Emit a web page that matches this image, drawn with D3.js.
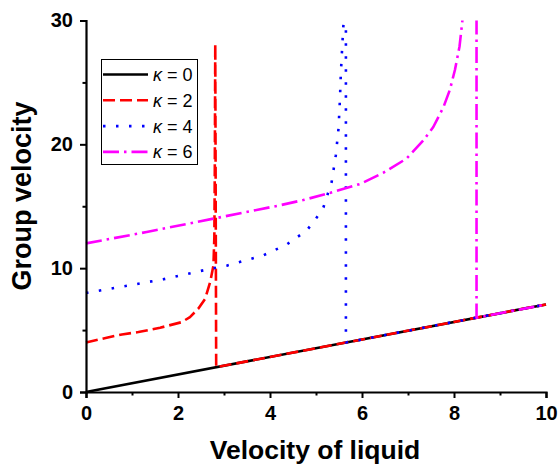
<!DOCTYPE html>
<html>
<head>
<meta charset="utf-8">
<script src="https://cdn.jsdelivr.net/npm/d3@7"></script>
<style>
  body { margin: 0; background: #fff; }
  svg { display: block; }
  text { font-family: "Liberation Sans", Arial, sans-serif; }
</style>
</head>
<body>
<svg id="chart" width="558" height="467"></svg>
<script>
// ---- data ----
const xTicks = [0, 2, 4, 6, 8, 10];
const xMinorTicks = [1, 3, 5, 7, 9];
const yTicks = [0, 10, 20, 30];
const yMinorTicks = [5, 15, 25];

const k0X = [0, 10];
const k0Y = [0, 7.07];

const k2X = [0, 0.45, 0.78, 1.14, 1.61, 2.08, 2.26, 2.44, 2.59, 2.70, 2.77, 2.79, 2.80, 2.81, 2.83, 4, 6, 8, 10];
const k2Y = [4.0, 4.38, 4.65, 4.84, 5.19, 5.64, 6.05, 6.72, 7.53, 8.88, 10.2, 12.5, 18.0, 28.1, 2.0, 2.83, 4.24, 5.66, 7.07];

const k4X = [0, 0.81, 1.68, 2.48, 3.06, 3.85, 4.36, 4.80, 5.00, 5.16, 5.34, 5.43, 5.49, 5.52, 5.54, 5.57, 5.60, 5.62, 5.65, 5.65, 6, 8, 10];
const k4Y = [8.0, 8.53, 9.1, 9.77, 10.2, 11.03, 11.9, 13.05, 14.0, 14.9, 16.96, 19.1, 21.3, 23.6, 25.7, 27.9, 29.9, 34, 34, 4.0, 4.24, 5.66, 7.07];

const k6X = [0, 1.32, 2.77, 4.22, 4.72, 5.23, 5.96, 6.46, 6.97, 7.33, 7.55, 7.77, 7.91, 8.02, 8.12, 8.18, 8.30, 8.49, 8.49, 9, 10];
const k6Y = [12.0, 12.92, 14.0, 15.08, 15.5, 16.0, 16.8, 17.7, 18.85, 20.3, 21.4, 23.0, 24.4, 26.0, 27.9, 29.9, 40, 40, 6.0, 6.36, 7.07];

const seriesNames = ["0", "2", "4", "6"];
const seriesColors = ["#000000", "#ff0000", "#0000ff", "#ff00ff"];
const seriesDash = [null, "12,5", "2.5,10.5", "16,5,2.5,5"];

// ---- layout ----
const svg = d3.select("#chart");
const pLeft = 86, pRight = 546, pTop = 20.5, pBottom = 392;

const x = d3.scaleLinear().domain([0, 10]).range([pLeft, pRight]);
const y = d3.scaleLinear().domain([0, 30]).range([pBottom, pTop]);

// clip
svg.append("defs").append("clipPath").attr("id", "clip")
  .append("rect").attr("x", pLeft - 5).attr("y", pTop).attr("width", pRight - pLeft + 10).attr("height", pBottom - pTop + 5);

const series = [
  { xs: k0X, ys: k0Y },
  { xs: k2X, ys: k2Y },
  { xs: k4X, ys: k4Y },
  { xs: k6X, ys: k6Y }
];

const line = d3.line().x(d => x(d[0])).y(d => y(d[1]));
const g = svg.append("g").attr("clip-path", "url(#clip)");
series.forEach((s, i) => {
  const pts = s.xs.map((v, j) => [v, s.ys[j]]);
  g.append("path")
    .attr("d", line(pts))
    .attr("fill", "none")
    .attr("stroke", seriesColors[i])
    .attr("stroke-width", 2.6)
    .attr("stroke-dasharray", seriesDash[i])
    .attr("stroke-linejoin", "round");
});

// axes
const xAxis = d3.axisBottom(x).tickValues(xTicks).tickSize(6).tickPadding(8).tickFormat(d3.format("d"));
const xMinor = d3.axisBottom(x).tickValues(xMinorTicks).tickSize(3.5).tickFormat("");
const yAxis = d3.axisLeft(y).tickValues(yTicks).tickSize(6).tickPadding(7).tickFormat(d3.format("d"));
const yMinor = d3.axisLeft(y).tickValues(yMinorTicks).tickSize(3.5).tickFormat("");

function styleAxis(sel) {
  sel.select(".domain").attr("stroke-width", 2.2).attr("stroke", "#000");
  sel.selectAll(".tick line").attr("stroke-width", 2).attr("stroke", "#000");
  sel.selectAll(".tick text").attr("font-size", 20).attr("font-weight", "bold").attr("fill", "#000")
     .attr("font-family", "'Liberation Sans', Arial, sans-serif");
}

const gx = svg.append("g").attr("transform", `translate(0,${pBottom})`).call(xAxis);
styleAxis(gx);
const gxm = svg.append("g").attr("transform", `translate(0,${pBottom})`).call(xMinor);
styleAxis(gxm); gxm.select(".domain").remove();
const gy = svg.append("g").attr("transform", `translate(${pLeft},0)`).call(yAxis);
styleAxis(gy);
const gym = svg.append("g").attr("transform", `translate(${pLeft},0)`).call(yMinor);
styleAxis(gym); gym.select(".domain").remove();

// axis titles
svg.append("text")
  .attr("x", 315).attr("y", 459)
  .attr("text-anchor", "middle").attr("font-size", 26.5).attr("font-weight", "bold")
  .text("Velocity of liquid");
svg.append("text")
  .attr("transform", `translate(31,196) rotate(-90)`)
  .attr("text-anchor", "middle").attr("font-size", 27).attr("font-weight", "bold")
  .text("Group velocity");

// legend
const lg = svg.append("g");
lg.append("rect").attr("x", 101.5).attr("y", 59.5).attr("width", 96).attr("height", 105)
  .attr("fill", "#fff").attr("stroke", "#000").attr("stroke-width", 1);
seriesNames.forEach((name, i) => {
  const ry = 74.5 + i * 25.8;
  lg.append("line").attr("x1", 103).attr("x2", 148).attr("y1", ry).attr("y2", ry)
    .attr("stroke", seriesColors[i]).attr("stroke-width", 2.6)
    .attr("stroke-dasharray", seriesDash[i]);
  const t = lg.append("text").attr("x", 153).attr("y", ry + 6.5).attr("font-size", 18);
  t.append("tspan").attr("font-style", "italic").text("κ");
  t.append("tspan").text(" = " + name);
});
</script>
</body>
</html>
